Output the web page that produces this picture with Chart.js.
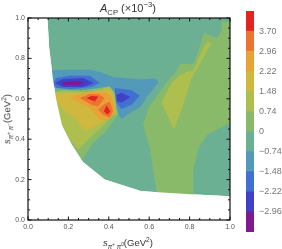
<!DOCTYPE html>
<html>
<head>
<meta charset="utf-8">
<script src="https://cdn.jsdelivr.net/npm/chart.js@4"></script>
<style>
html, body { margin:0; padding:0; background:#fff; }
body { width:282px; height:249px; overflow:hidden; position:relative; font-family:"Liberation Sans",sans-serif; }
canvas { position:absolute; top:0; }
.lbl { position:absolute; white-space:nowrap; color:#333; line-height:1; }
.lbl sub, .lbl sup { font-size:70%; line-height:0; }
</style>
</head>
<body>
<canvas id="map" width="240" height="249" style="left:0;width:240px;height:249px"></canvas>
<canvas id="bar" width="42" height="249" style="left:240px;width:42px;height:249px"></canvas>
<div class="lbl" style="left:100px;top:3px;font-size:11px"><i>A</i><sub>CP</sub> (×10<sup>−3</sup>)</div>
<div class="lbl" style="left:103px;top:238px;font-size:9.5px"><i>s</i><sub><i>π</i><sup>+</sup> <i>π</i><sup>0</sup></sub>(GeV<sup>2</sup>)</div>
<div class="lbl" style="left:7px;top:119px;font-size:9.5px;transform:translate(-50%,-50%) rotate(-90deg)"><i>s</i><sub><i>π</i><sup>+</sup> <i>π</i><sup>−</sup></sub>(GeV<sup>2</sup>)</div>
<script>
// contour bands, [s_x, s_y]
const domain = [[0.096,1],[1,1],[1,0.118],[0.805,0.127],[0.607,0.14],[0.558,0.143],[0.38,0.2],[0.272,0.287],[0.215,0.378],[0.168,0.47],[0.14,0.595],[0.124,0.695],[0.105,0.85]];
const outside = [[0,1],[0.096,1],[0.105,0.85],[0.124,0.695],[0.14,0.595],[0.168,0.47],[0.215,0.378],[0.272,0.287],[0.38,0.2],[0.558,0.143],[0.607,0.14],[0.805,0.127],[1,0.118],[1,0],[0,0]];

const greenRight = [[1,0.983],[0.959,0.983],[0.959,0.942],[0.937,0.901],[0.871,0.926],[0.843,0.835],[0.818,0.772],[0.752,0.772],[0.736,0.736],[0.703,0.703],[0.661,0.645],[0.595,0.554],[0.57,0.472],[0.603,0.356],[0.637,0.139],[0.637,0.1],[0.818,0.1],[0.818,0.241],[0.843,0.356],[0.887,0.422],[1,0.48]];
const limeRight = [[0.909,0.876],[0.892,0.884],[0.876,0.868],[0.818,0.74],[0.785,0.733],[0.752,0.716],[0.711,0.68],[0.661,0.581],[0.678,0.546],[0.719,0.455],[0.727,0.457],[0.744,0.505],[0.768,0.571],[0.81,0.703]];

const lightBlue = [[0.1,0.736],[0.157,0.744],[0.306,0.744],[0.355,0.733],[0.421,0.708],[0.559,0.695],[0.633,0.70],[0.645,0.678],[0.592,0.614],[0.559,0.562],[0.491,0.521],[0.463,0.5],[0.446,0.521],[0.43,0.587],[0.425,0.637],[0.395,0.661],[0.306,0.64],[0.207,0.645],[0.1,0.66]];
const blueA = [[0.121,0.678],[0.141,0.703],[0.207,0.714],[0.306,0.714],[0.355,0.678],[0.314,0.658],[0.215,0.649],[0.141,0.653]];
const blueB = [[0.43,0.653],[0.513,0.642],[0.554,0.615],[0.513,0.571],[0.463,0.549],[0.438,0.579],[0.43,0.62]];
const indigoA = [[0.132,0.678],[0.174,0.698],[0.273,0.703],[0.326,0.678],[0.273,0.658],[0.174,0.658]];
const indigoB = [[0.438,0.62],[0.463,0.629],[0.508,0.609],[0.463,0.582],[0.441,0.587]];
const purple = [[0.166,0.678],[0.198,0.686],[0.256,0.688],[0.276,0.678],[0.248,0.668],[0.182,0.668]];

const greenLeft = [[0.1,0.64],[0.182,0.643],[0.281,0.643],[0.355,0.655],[0.4,0.661],[0.425,0.635],[0.43,0.587],[0.45,0.511],[0.445,0.521],[0.421,0.488],[0.38,0.432],[0.322,0.381],[0.273,0.307],[0.207,0.224],[0.1,0.4]];
const lime = [[0.1,0.63],[0.182,0.638],[0.281,0.633],[0.355,0.645],[0.405,0.661],[0.43,0.625],[0.435,0.576],[0.44,0.521],[0.413,0.521],[0.37,0.463],[0.314,0.414],[0.248,0.348],[0.236,0.363],[0.207,0.398],[0.1,0.6]];
const yellow = [[0.108,0.615],[0.167,0.628],[0.281,0.633],[0.355,0.638],[0.405,0.645],[0.421,0.625],[0.43,0.571],[0.42,0.531],[0.395,0.506],[0.346,0.472],[0.281,0.442],[0.232,0.506],[0.192,0.531],[0.157,0.571],[0.108,0.596]];
const amber = [[0.207,0.604],[0.256,0.624],[0.322,0.637],[0.389,0.634],[0.413,0.612],[0.43,0.554],[0.425,0.521],[0.397,0.496],[0.355,0.496],[0.306,0.554],[0.256,0.579]];
const orangeA = [[0.256,0.604],[0.306,0.624],[0.347,0.624],[0.38,0.604],[0.347,0.562],[0.314,0.571]];
const orangeB = [[0.405,0.587],[0.421,0.538],[0.405,0.508],[0.372,0.521],[0.347,0.546],[0.372,0.571]];
const redA = [[0.29,0.604],[0.314,0.614],[0.347,0.612],[0.331,0.587],[0.306,0.596]];
const redB = [[0.389,0.567],[0.408,0.538],[0.394,0.521],[0.375,0.538]];

const barEdges = [-3.70,-2.96,-2.22,-1.48,-0.74,0,0.74,1.48,2.22,2.96,3.70,4.44];
const barColors = ["#7f1a8e","#4040c8","#4270d2","#5399b9","#6bb093","#88ba6a","#aebf4f","#d0b83f","#e8a235","#ec7330","#e2231f"];
const barTicks = [-2.96,-2.22,-1.48,-0.74,0,0.74,1.48,2.22,2.96,3.70];

const axisTicks = [0,0.2,0.4,0.6,0.8,1];
const minorTicks = [0,0.05,0.1,0.15,0.2,0.25,0.3,0.35,0.4,0.45,0.5,0.55,0.6,0.65,0.7,0.75,0.8,0.85,0.9,0.95,1];

// bottom first, the last one sits on top
const layers = [
    [domain, "#6bb093"],
    [greenRight, "#88ba6a"],
    [limeRight, "#aebf4f"],
    [lightBlue, "#5399b9"],
    [blueA, "#4270d2"],
    [blueB, "#4270d2"],
    [indigoA, "#4040c8"],
    [indigoB, "#4040c8"],
    [purple, "#7f1a8e"],
    [greenLeft, "#88ba6a"],
    [lime, "#aebf4f"],
    [yellow, "#d0b83f"],
    [amber, "#e8a235"],
    [orangeA, "#ec7330"],
    [orangeB, "#ec7330"],
    [redA, "#e2231f"],
    [redB, "#e2231f"],
    [outside, "#ffffff"]
];

// black frame with inward ticks on all sides
const framePlugin = {
    id: "frame",
    afterDatasetsDraw(chart) {
        let a = chart.chartArea, c = chart.ctx;
        let sx = chart.scales.x, sy = chart.scales.y;
        c.save();
        c.strokeStyle = "#111";
        c.lineWidth = 1;
        c.beginPath();
        minorTicks.forEach(t => {
            let len = axisTicks.includes(t) ? 3.5 : 2;
            let px = sx.getPixelForValue(t), py = sy.getPixelForValue(t);
            c.moveTo(px, a.bottom); c.lineTo(px, a.bottom - len);
            c.moveTo(px, a.top); c.lineTo(px, a.top + len);
            c.moveTo(a.left, py); c.lineTo(a.left + len, py);
            c.moveTo(a.right, py); c.lineTo(a.right - len, py);
        });
        c.stroke();
        c.lineWidth = 1.2;
        c.strokeRect(a.left, a.top, a.right - a.left, a.bottom - a.top);
        c.restore();
    }
};

function axisOpts() {
    return {
        type: "linear", min: 0, max: 1,
        grid: { display: false, drawTicks: false },
        border: { display: false },
        afterBuildTicks: s => { s.ticks = axisTicks.map(v => ({ value: v })); },
        ticks: { color: "#555", font: { size: 7, family: "Liberation Sans" }, padding: 3, maxRotation: 0, autoSkip: false, callback: v => v.toFixed(1) }
    };
}

let xOpts = axisOpts(), yOpts = axisOpts();
xOpts.afterFit = s => { s.height = 29; };
yOpts.afterFit = s => { s.width = 28; };

new Chart(document.getElementById("map"), {
    type: "scatter",
    data: {
        datasets: layers.map((l, i) => ({
            data: l[0].map(p => ({ x: p[0], y: p[1] })),
            showLine: true,
            fill: "shape",
            backgroundColor: l[1],
            borderWidth: 0,
            pointRadius: 0,
            order: layers.length - i
        }))
    },
    options: {
        responsive: false,
        animation: false,
        layout: { padding: { top: 18, right: 10, left: 0, bottom: 0 } },
        plugins: { legend: { display: false }, tooltip: { enabled: false } },
        scales: { x: xOpts, y: yOpts }
    },
    plugins: [framePlugin]
});

// colour key, one floating bar per band in a single column
new Chart(document.getElementById("bar"), {
    type: "bar",
    data: {
        labels: ["key"],
        datasets: barColors.map((c, i) => ({
            data: [[barEdges[i], barEdges[i + 1]]],
            backgroundColor: c,
            borderWidth: 0,
            barPercentage: 1,
            categoryPercentage: 1,
            grouped: false
        }))
    },
    options: {
        responsive: false,
        animation: false,
        layout: { padding: { top: 11, bottom: 17, left: 6, right: 0 } },
        plugins: { legend: { display: false }, tooltip: { enabled: false } },
        scales: {
            x: { display: false },
            y: {
                position: "right",
                min: barEdges[0], max: barEdges[barEdges.length - 1],
                grid: { display: false, drawTicks: false },
                border: { display: false },
                afterBuildTicks: s => { s.ticks = barTicks.map(v => ({ value: v })); },
                afterFit: s => { s.width = 28; },
                ticks: {
                    color: "#777", padding: 5, autoSkip: false,
                    font: { size: 9, family: "Liberation Sans" },
                    callback: v => v === 0 ? "0" : (v < 0 ? "\u2212" : "") + Math.abs(v).toFixed(2)
                }
            }
        }
    }
});
</script>
</body>
</html>
